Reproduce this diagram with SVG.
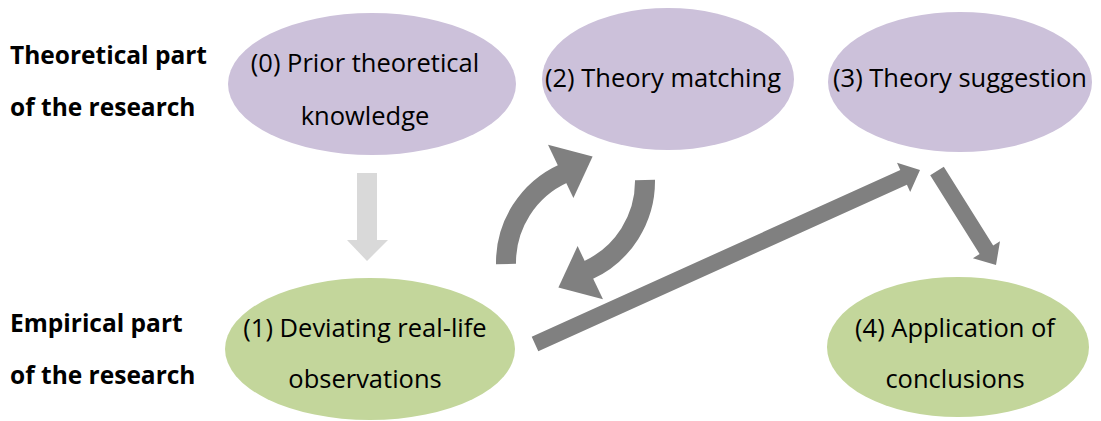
<svg xmlns="http://www.w3.org/2000/svg" width="1101" height="421" viewBox="0 0 1101 421">
<style>
.theory{fill:#CCC1DA}
.emp{fill:#C3D69B}
.t{font-family:"Open Sans","Liberation Sans",sans-serif;font-size:25.5px;fill:#000;text-anchor:middle}
.lbl{font-family:"Open Sans","Liberation Sans",sans-serif;font-size:24.5px;font-weight:bold;fill:#000}
.arr{fill:#808080}
</style>
<rect width="1101" height="421" fill="#fff"/>
<g id="labels">
<text class="lbl" x="10" y="64">Theoretical part</text>
<text class="lbl" x="10" y="116">of the research</text>
<text class="lbl" x="10" y="332">Empirical part</text>
<text class="lbl" x="10" y="384">of the research</text>
</g>
<g id="node0">
<ellipse class="theory" cx="372" cy="84" rx="144" ry="71"/>
<text class="t" x="365" y="72">(0) Prior theoretical</text>
<text class="t" x="365" y="125">knowledge</text>
</g>
<g id="node2">
<ellipse class="theory" cx="668" cy="79" rx="126" ry="71"/>
<text class="t" x="663" y="87">(2) Theory matching</text>
</g>
<g id="node3">
<ellipse class="theory" cx="960" cy="82" rx="132" ry="70"/>
<text class="t" x="960" y="87">(3) Theory suggestion</text>
</g>
<g id="node1">
<ellipse class="emp" cx="370" cy="349" rx="145" ry="71"/>
<text class="t" x="365" y="337">(1) Deviating real-life</text>
<text class="t" x="365" y="388">observations</text>
</g>
<g id="node4">
<ellipse class="emp" cx="958" cy="347" rx="131" ry="70"/>
<text class="t" x="955" y="337">(4) Application of</text>
<text class="t" x="955" y="388">conclusions</text>
</g>
<g id="connectors">
<polygon fill="#D9D9D9" points="357,173 377,173 377,240 388,240 367,261 347,240 357,240"/>
<g id="curvedUp">
<path d="M506 264 A98 98 0 0 1 563.5 173.5" fill="none" stroke="#808080" stroke-width="20"/>
<polygon class="arr" points="548,144.7 592.6,156.6 573.4,197.9"/>
</g>
<g transform="rotate(180 575.5 222)">
<path d="M506 264 A98 98 0 0 1 563.5 173.5" fill="none" stroke="#808080" stroke-width="20"/>
<polygon class="arr" points="548,144.7 592.6,156.6 573.4,197.9"/>
</g>
<polygon class="arr" points="531.7,336.7 900.3,170.1 897,162.8 920,170 910.2,192 906.9,184.7 538.3,351.3"/>
<polygon class="arr" points="943.8,166.7 993.2,245.5 1000,241.3 996,265 972.9,258.3 979.6,254.1 930.2,175.3"/>
</g>
</svg>
